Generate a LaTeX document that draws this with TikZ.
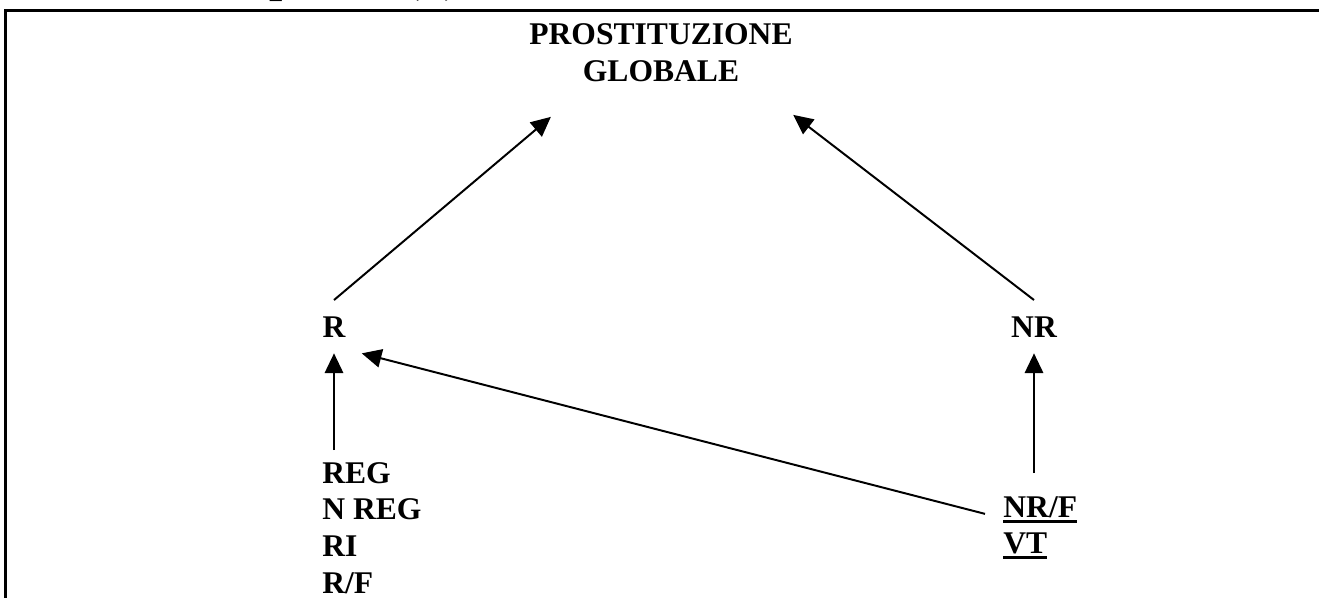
\documentclass[tikz,border=0pt]{standalone}
\usepackage{fontspec}
\setmainfont{Liberation Serif}
\usetikzlibrary{arrows.meta,positioning,calc}

\newcommand{\ulbox}[1]{\vtop{\hbox{#1}\kern0.8pt\hrule height 1.1pt}}

\begin{document}
\begin{tikzpicture}[
    x=0.38pt, y=-0.38pt,
    lbl/.style={font=\bfseries\fontsize{12}{13.9}\selectfont, inner sep=0pt},
    arrow/.style={-{Triangle[length=7.5pt,width=7pt]}, line width=0.75pt}
]
    \useasboundingbox (0,0) rectangle (1319,597);
    % frame, cut off by the page
    \draw[line width=1.2pt] (5.5,620) -- (5.5,10.5) -- (1340,10.5);
    \node[lbl, anchor=base west] (title) at (12,-9) {\fontsize{18}{21}\selectfont Scenario auspicata (?)};

    \node[lbl, align=center, anchor=north] (prost) at (661,23) {PROSTITUZIONE\\GLOBALE};
    \node[lbl, anchor=base, inner sep=6pt] (r) at (334,337) {R};
    \node[lbl, anchor=base, inner sep=6pt] (nr) at (1034,337) {NR};
    \node[lbl, align=left, anchor=north west, inner sep=4.5pt] (reg) at (310,450) {REG\\N REG\\RI\\R/F};
    \node[lbl, align=left, anchor=north west, inner sep=8.7pt] (nrf) at (980,473) {\ulbox{NR/F}\\\ulbox{VT}};

    \draw[arrow] (r.north) -- ([shift={(22,35)}]prost.south west);
    \draw[arrow] (nr.north) -- ([shift={(0,33)}]prost.south east);
    \draw[arrow] (reg.north -| r) -- (r.south);
    \draw[arrow] (nrf.north -| nr) -- (nr.south);
    \draw[arrow] ([shift={(5,-14)}]nrf.west) -- (r.south east);
\end{tikzpicture}
\end{document}
